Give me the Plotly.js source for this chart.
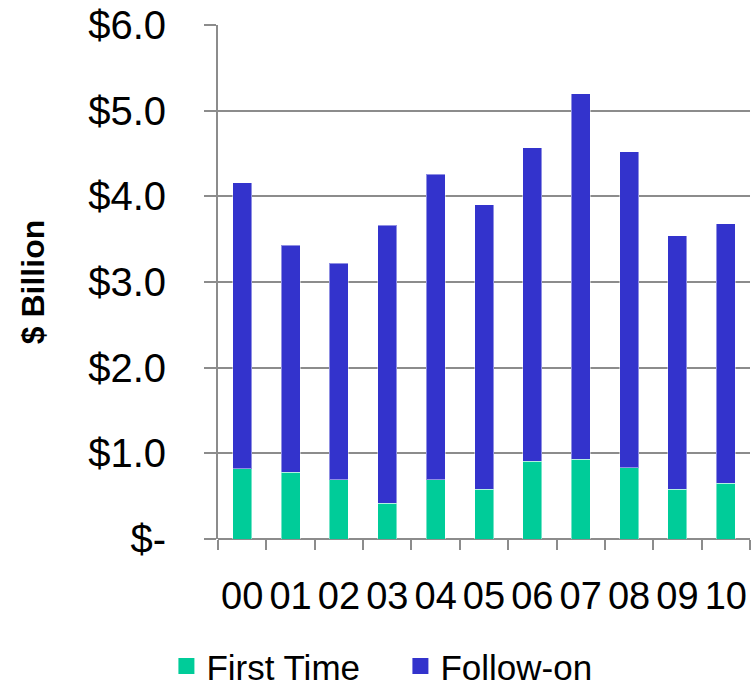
<!DOCTYPE html>
<html>
<head>
<meta charset="utf-8">
<script src="https://cdn.plot.ly/plotly-3.0.1.min.js"></script>
<style>
  html, body { margin: 0; padding: 0; background: #ffffff; }
  #chart { width: 753px; height: 689px; }
</style>
</head>
<body>
<div id="chart"></div>
<script>
// Years (two-digit labels) and amounts in $ billion, stacked per year
const years = ["00", "01", "02", "03", "04", "05", "06", "07", "08", "09", "10"];
const firstTime = [0.82, 0.78, 0.69, 0.42, 0.69, 0.58, 0.91, 0.93, 0.83, 0.58, 0.65];
const followOn  = [3.34, 2.65, 2.53, 3.24, 3.57, 3.32, 3.66, 4.27, 3.69, 2.96, 3.03];

const yTickVals = [0, 1, 2, 3, 4, 5, 6];
const yTickText = ["$-", "$1.0", "$2.0", "$3.0", "$4.0", "$5.0", "$6.0"];

const seriesNames = ["First Time", "Follow-on"];
const seriesColors = ["#00CC99", "#3333CC"];

const FONT = "'Liberation Sans', Arial, sans-serif";
const GRID = "#8c8c8c";

const barTraces = [firstTime, followOn].map((vals, i) => ({
  type: "bar",
  name: seriesNames[i],
  x: years,
  y: vals,
  marker: { color: seriesColors[i], line: { color: "rgba(255,255,255,0.45)", width: 1 } },
  legendgroup: seriesNames[i],
  showlegend: false,
  hoverinfo: "x+y+name"
}));

// Legend keys: square markers so the swatches read larger than the default bar key
const legendKeys = seriesNames.map((name, i) => ({
  type: "scatter",
  mode: "markers",
  name: name,
  x: [null],
  y: [null],
  marker: { symbol: "square", size: 16, color: seriesColors[i] },
  legendgroup: name,
  showlegend: true,
  hoverinfo: "skip"
}));

const layout = {
  width: 753,
  height: 689,
  margin: { l: 218, r: 3, t: 25, b: 149.5, pad: 0 },
  paper_bgcolor: "#ffffff",
  plot_bgcolor: "#ffffff",
  barmode: "stack",
  bargap: 0.607,
  font: { family: FONT, color: "#000000" },
  xaxis: {
    type: "category",
    categoryorder: "array",
    categoryarray: years,
    automargin: false,
    showgrid: false,
    showline: false,
    zeroline: false,
    ticks: "outside",
    tickson: "boundaries",
    ticklen: 10,
    tickwidth: 2,
    tickcolor: GRID,
    tickangle: 0,
    ticklabelstandoff: 31,
    tickfont: { family: FONT, size: 38, color: "#000000" },
    fixedrange: true
  },
  yaxis: {
    range: [0, 6],
    automargin: false,
    tickmode: "array",
    tickvals: yTickVals,
    ticktext: yTickText,
    showgrid: true,
    gridcolor: GRID,
    gridwidth: 2,
    zeroline: true,
    zerolinecolor: GRID,
    zerolinewidth: 2,
    showline: true,
    linecolor: GRID,
    linewidth: 2,
    ticks: "outside",
    ticklen: 12,
    tickwidth: 2,
    tickcolor: GRID,
    ticklabelstandoff: 30,
    tickfont: { family: FONT, size: 40, color: "#000000" },
    title: {
      text: "<b>$ Billion</b>",
      font: { family: FONT, size: 32, color: "#000000" },
      standoff: 34
    },
    fixedrange: true
  },
  showlegend: true,
  legend: {
    orientation: "h",
    xref: "container",
    yref: "container",
    x: 0.221,
    xanchor: "left",
    y: 0.033,
    yanchor: "middle",
    entrywidth: 189,
    entrywidthmode: "pixels",
    font: { family: FONT, size: 35, color: "#000000" },
    bgcolor: "rgba(0,0,0,0)",
    traceorder: "normal"
  }
};

Plotly.newPlot("chart", barTraces.concat(legendKeys), layout, { displayModeBar: false, staticPlot: true });
</script>
</body>
</html>
